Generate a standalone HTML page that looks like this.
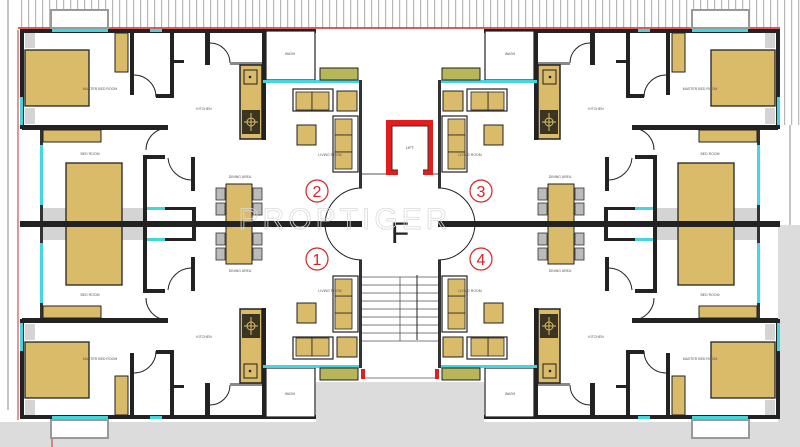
<!DOCTYPE html>
<html><head><meta charset="utf-8"><style>
html,body{margin:0;padding:0;background:#fff;}
svg{display:block;}
text{font-family:"Liberation Sans",sans-serif;}
</style></head><body>
<svg width="800" height="447" viewBox="0 0 800 447" xmlns="http://www.w3.org/2000/svg">
<defs>
<pattern id="hatch" width="7" height="10" patternUnits="userSpaceOnUse">
<rect width="7" height="10" fill="#fff"/><rect x="0" y="0" width="1.2" height="10" fill="#b8b8b8"/>
</pattern>
<g id="q">
  <rect x="24" y="33" width="108" height="92" fill="#fff"/>
  <rect x="25" y="33" width="10" height="15" fill="#d4d4d4"/>
  <rect x="25" y="108" width="10" height="16" fill="#d4d4d4"/>
  <rect x="25" y="50" width="64" height="56" fill="#d9bb6a" stroke="#222" stroke-width="1.3"/>
  <rect x="115" y="33" width="13" height="39" fill="#d9bb6a" stroke="#222" stroke-width="1"/>
  <rect x="20" y="29" width="296" height="4" fill="#222"/>
  <rect x="52" y="29" width="56" height="3" fill="#40d8e0"/>
  <rect x="150" y="29" width="12" height="3" fill="#40d8e0"/>
  <rect x="20" y="29" width="4" height="100" fill="#222"/>
  <rect x="20" y="97" width="3" height="28" fill="#40d8e0"/>
  <rect x="22" y="125" width="146" height="5" fill="#222"/>
  <rect x="130" y="33" width="4" height="62" fill="#222"/>
  <rect x="170" y="33" width="4" height="64" fill="#222"/>
  <rect x="156" y="94" width="18" height="4" fill="#222"/>
  <rect x="174" y="60" width="10" height="3" fill="#222"/>
  <path d="M134 75 A22 22 0 0 1 156 97" fill="none" stroke="#222" stroke-width="1"/>
  <rect x="205" y="33" width="5" height="32" fill="#222"/>
  <path d="M210 43 A20 20 0 0 1 230 63" fill="none" stroke="#222" stroke-width="1"/>
  <rect x="230" y="62" width="32" height="3" fill="#888"/>
  <rect x="240" y="65" width="22" height="74" fill="#d9bb6a" stroke="#222" stroke-width="1.5"/>
  <rect x="244" y="70" width="13" height="14" fill="#d9bb6a" stroke="#222" stroke-width="1"/>
  <circle cx="250" cy="77" r="1.3" fill="#222"/>
  <rect x="242" y="110" width="18" height="24" fill="#3a3520"/>
  <g stroke="#d9bb6a" stroke-width="1"><line x1="251" y1="113" x2="251" y2="131"/><line x1="244" y1="122" x2="258" y2="122"/></g>
  <circle cx="251" cy="122" r="4" fill="none" stroke="#d9bb6a" stroke-width="1"/>
  <rect x="262" y="30" width="4" height="110" fill="#222"/>
  <rect x="266" y="31" width="49" height="49" fill="#fff" stroke="#222" stroke-width="1.2"/>
  <rect x="263" y="80" width="97" height="3" fill="#40d8e0"/>
  <rect x="320" y="68" width="38" height="12" fill="#b7b75a" stroke="#222" stroke-width="1"/>
  <rect x="293" y="89" width="40" height="22" fill="#fff" stroke="#222" stroke-width="1.2"/>
  <rect x="296" y="92" width="16" height="18" fill="#d9bb6a" stroke="#222" stroke-width="0.8"/>
  <rect x="312" y="92" width="17" height="18" fill="#d9bb6a" stroke="#222" stroke-width="0.8"/>
  <rect x="337" y="91" width="20" height="20" fill="#d9bb6a" stroke="#222" stroke-width="1"/>
  <rect x="333" y="116" width="25" height="56" fill="#fff" stroke="#222" stroke-width="1.2"/>
  <rect x="335" y="119" width="17" height="16" fill="#d9bb6a" stroke="#222" stroke-width="0.8"/>
  <rect x="335" y="135" width="17" height="17" fill="#d9bb6a" stroke="#222" stroke-width="0.8"/>
  <rect x="335" y="152" width="17" height="17" fill="#d9bb6a" stroke="#222" stroke-width="0.8"/>
  <rect x="297" y="125" width="19" height="20" fill="#d9bb6a" stroke="#222" stroke-width="1"/>
  <rect x="359" y="80" width="3" height="108" fill="#333"/>
  <path d="M362 188 A37 37 0 0 0 325 225" fill="none" stroke="#222" stroke-width="1"/>
  <rect x="40" y="130" width="3" height="92" fill="#333"/>
  <rect x="40" y="145" width="3" height="60" fill="#40d8e0"/>
  <rect x="43" y="130" width="58" height="12" fill="#d9bb6a" stroke="#222" stroke-width="1"/>
  <rect x="43" y="208" width="23" height="14" fill="#d4d4d4"/>
  <rect x="122" y="208" width="21" height="14" fill="#d4d4d4"/>
  <rect x="66" y="163" width="56" height="59" fill="#d9bb6a" stroke="#222" stroke-width="1.3"/>
  <path d="M168 128 A22 22 0 0 0 146 150" fill="none" stroke="#222" stroke-width="1"/>
  <rect x="143" y="155" width="4" height="67" fill="#222"/>
  <rect x="143" y="155" width="22" height="4" fill="#222"/>
  <rect x="191" y="157" width="4" height="34" fill="#222"/>
  <path d="M168 158 A24 24 0 0 0 191 180" fill="none" stroke="#222" stroke-width="1"/>
  <rect x="147" y="207" width="18" height="3" fill="#40d8e0"/>
  <rect x="165" y="207" width="30" height="3" fill="#222"/>
  <rect x="192" y="207" width="4" height="15" fill="#222"/>
  <rect x="216" y="188" width="9" height="12" fill="#bbb" stroke="#333" stroke-width="0.8"/>
  <rect x="216" y="203" width="9" height="12" fill="#bbb" stroke="#333" stroke-width="0.8"/>
  <rect x="253" y="188" width="9" height="12" fill="#bbb" stroke="#333" stroke-width="0.8"/>
  <rect x="253" y="203" width="9" height="12" fill="#bbb" stroke="#333" stroke-width="0.8"/>
  <rect x="226" y="184" width="26" height="40" fill="#d9bb6a" stroke="#222" stroke-width="1"/>
  <rect x="20" y="221" width="342" height="5" fill="#222"/>
  <rect x="51" y="10" width="57" height="18" fill="#fff" stroke="#999" stroke-width="2"/>
</g>
</defs>

<rect x="18" y="0" width="782" height="28" fill="url(#hatch)"/>
<rect x="778" y="28" width="22" height="97" fill="url(#hatch)"/>
<rect x="778" y="225" width="22" height="222" fill="#dcdcdc"/>
<rect x="0" y="422" width="800" height="25" fill="#dcdcdc"/>
<rect x="316" y="382" width="168" height="40" fill="#dcdcdc"/>
<line x1="8" y1="0" x2="8" y2="410" stroke="#888" stroke-width="1"/>
<line x1="790" y1="125" x2="790" y2="225" stroke="#888" stroke-width="1"/>
<line x1="18" y1="28" x2="780" y2="28" stroke="#e02020" stroke-width="1.5"/>
<line x1="18" y1="30" x2="18" y2="420" stroke="#e02020" stroke-width="1"/>
<line x1="52" y1="430" x2="52" y2="447" stroke="#e02020" stroke-width="1"/>

<use href="#q"/>
<use href="#q" transform="translate(800,0) scale(-1,1)"/>
<use href="#q" transform="translate(0,448) scale(1,-1)"/>
<use href="#q" transform="translate(800,448) scale(-1,-1)"/>

<rect x="386" y="120" width="47" height="55" fill="#e41c1c"/>
<rect x="392" y="126" width="36" height="44" fill="#fff" stroke="#333" stroke-width="1"/>
<rect x="398" y="168" width="25" height="8" fill="#fff"/>
<line x1="362" y1="174" x2="386" y2="174" stroke="#555" stroke-width="1"/>
<line x1="433" y1="174" x2="438" y2="174" stroke="#555" stroke-width="1"/>
<text x="410" y="149" font-size="4" fill="#444" text-anchor="middle">LIFT</text>
<g stroke="#555" stroke-width="0.8">
<line x1="362" y1="277" x2="438" y2="277"/><line x1="362" y1="285" x2="438" y2="285"/>
<line x1="362" y1="293" x2="438" y2="293"/><line x1="362" y1="301" x2="438" y2="301"/>
<line x1="362" y1="309" x2="438" y2="309"/><line x1="362" y1="317" x2="438" y2="317"/>
<line x1="362" y1="325" x2="438" y2="325"/><line x1="362" y1="333" x2="438" y2="333"/>
<line x1="362" y1="341" x2="438" y2="341"/><line x1="362" y1="378" x2="438" y2="378"/>
<line x1="400" y1="277" x2="400" y2="341"/>
</g>
<line x1="417" y1="275" x2="417" y2="340" stroke="#222" stroke-width="1"/>
<rect x="361" y="369" width="4" height="10" fill="#e41c1c"/>
<rect x="435" y="369" width="4" height="10" fill="#e41c1c"/>
<text x="400" y="243" font-size="30" fill="#222" text-anchor="middle">F</text>
<text x="345" y="229" font-size="30" fill="none" stroke="#dadada" stroke-width="0.8" text-anchor="middle" letter-spacing="4">PROPTIGER</text>
<g fill="none" stroke="#e02020" stroke-width="1.2">
<circle cx="317" cy="191" r="11"/><circle cx="481" cy="191" r="11"/>
<circle cx="317" cy="259" r="11"/><circle cx="481" cy="259" r="11"/>
</g>
<g fill="#e02020" font-size="16" text-anchor="middle">
<text x="317" y="197">2</text><text x="481" y="197">3</text>
<text x="317" y="265">1</text><text x="481" y="265">4</text>
</g>
<g font-size="3.5" fill="#555" text-anchor="middle">
<text x="100" y="90">MASTER BED ROOM</text><text x="204" y="110">KITCHEN</text>
<text x="90" y="155">BED ROOM</text><text x="240" y="178">DINING AREA</text>
<text x="330" y="156">LIVING ROOM</text><text x="290" y="55">WASH</text>
<text x="700" y="90">MASTER BED ROOM</text><text x="596" y="110">KITCHEN</text>
<text x="710" y="155">BED ROOM</text><text x="560" y="178">DINING AREA</text>
<text x="470" y="156">LIVING ROOM</text><text x="510" y="55">WASH</text>
<text x="100" y="360">MASTER BED ROOM</text><text x="204" y="338">KITCHEN</text>
<text x="90" y="296">BED ROOM</text><text x="240" y="272">DINING AREA</text>
<text x="330" y="292">LIVING ROOM</text><text x="290" y="395">WASH</text>
<text x="700" y="360">MASTER BED ROOM</text><text x="596" y="338">KITCHEN</text>
<text x="710" y="296">BED ROOM</text><text x="560" y="272">DINING AREA</text>
<text x="470" y="292">LIVING ROOM</text><text x="510" y="395">WASH</text>
</g>
</svg>
</body></html>
